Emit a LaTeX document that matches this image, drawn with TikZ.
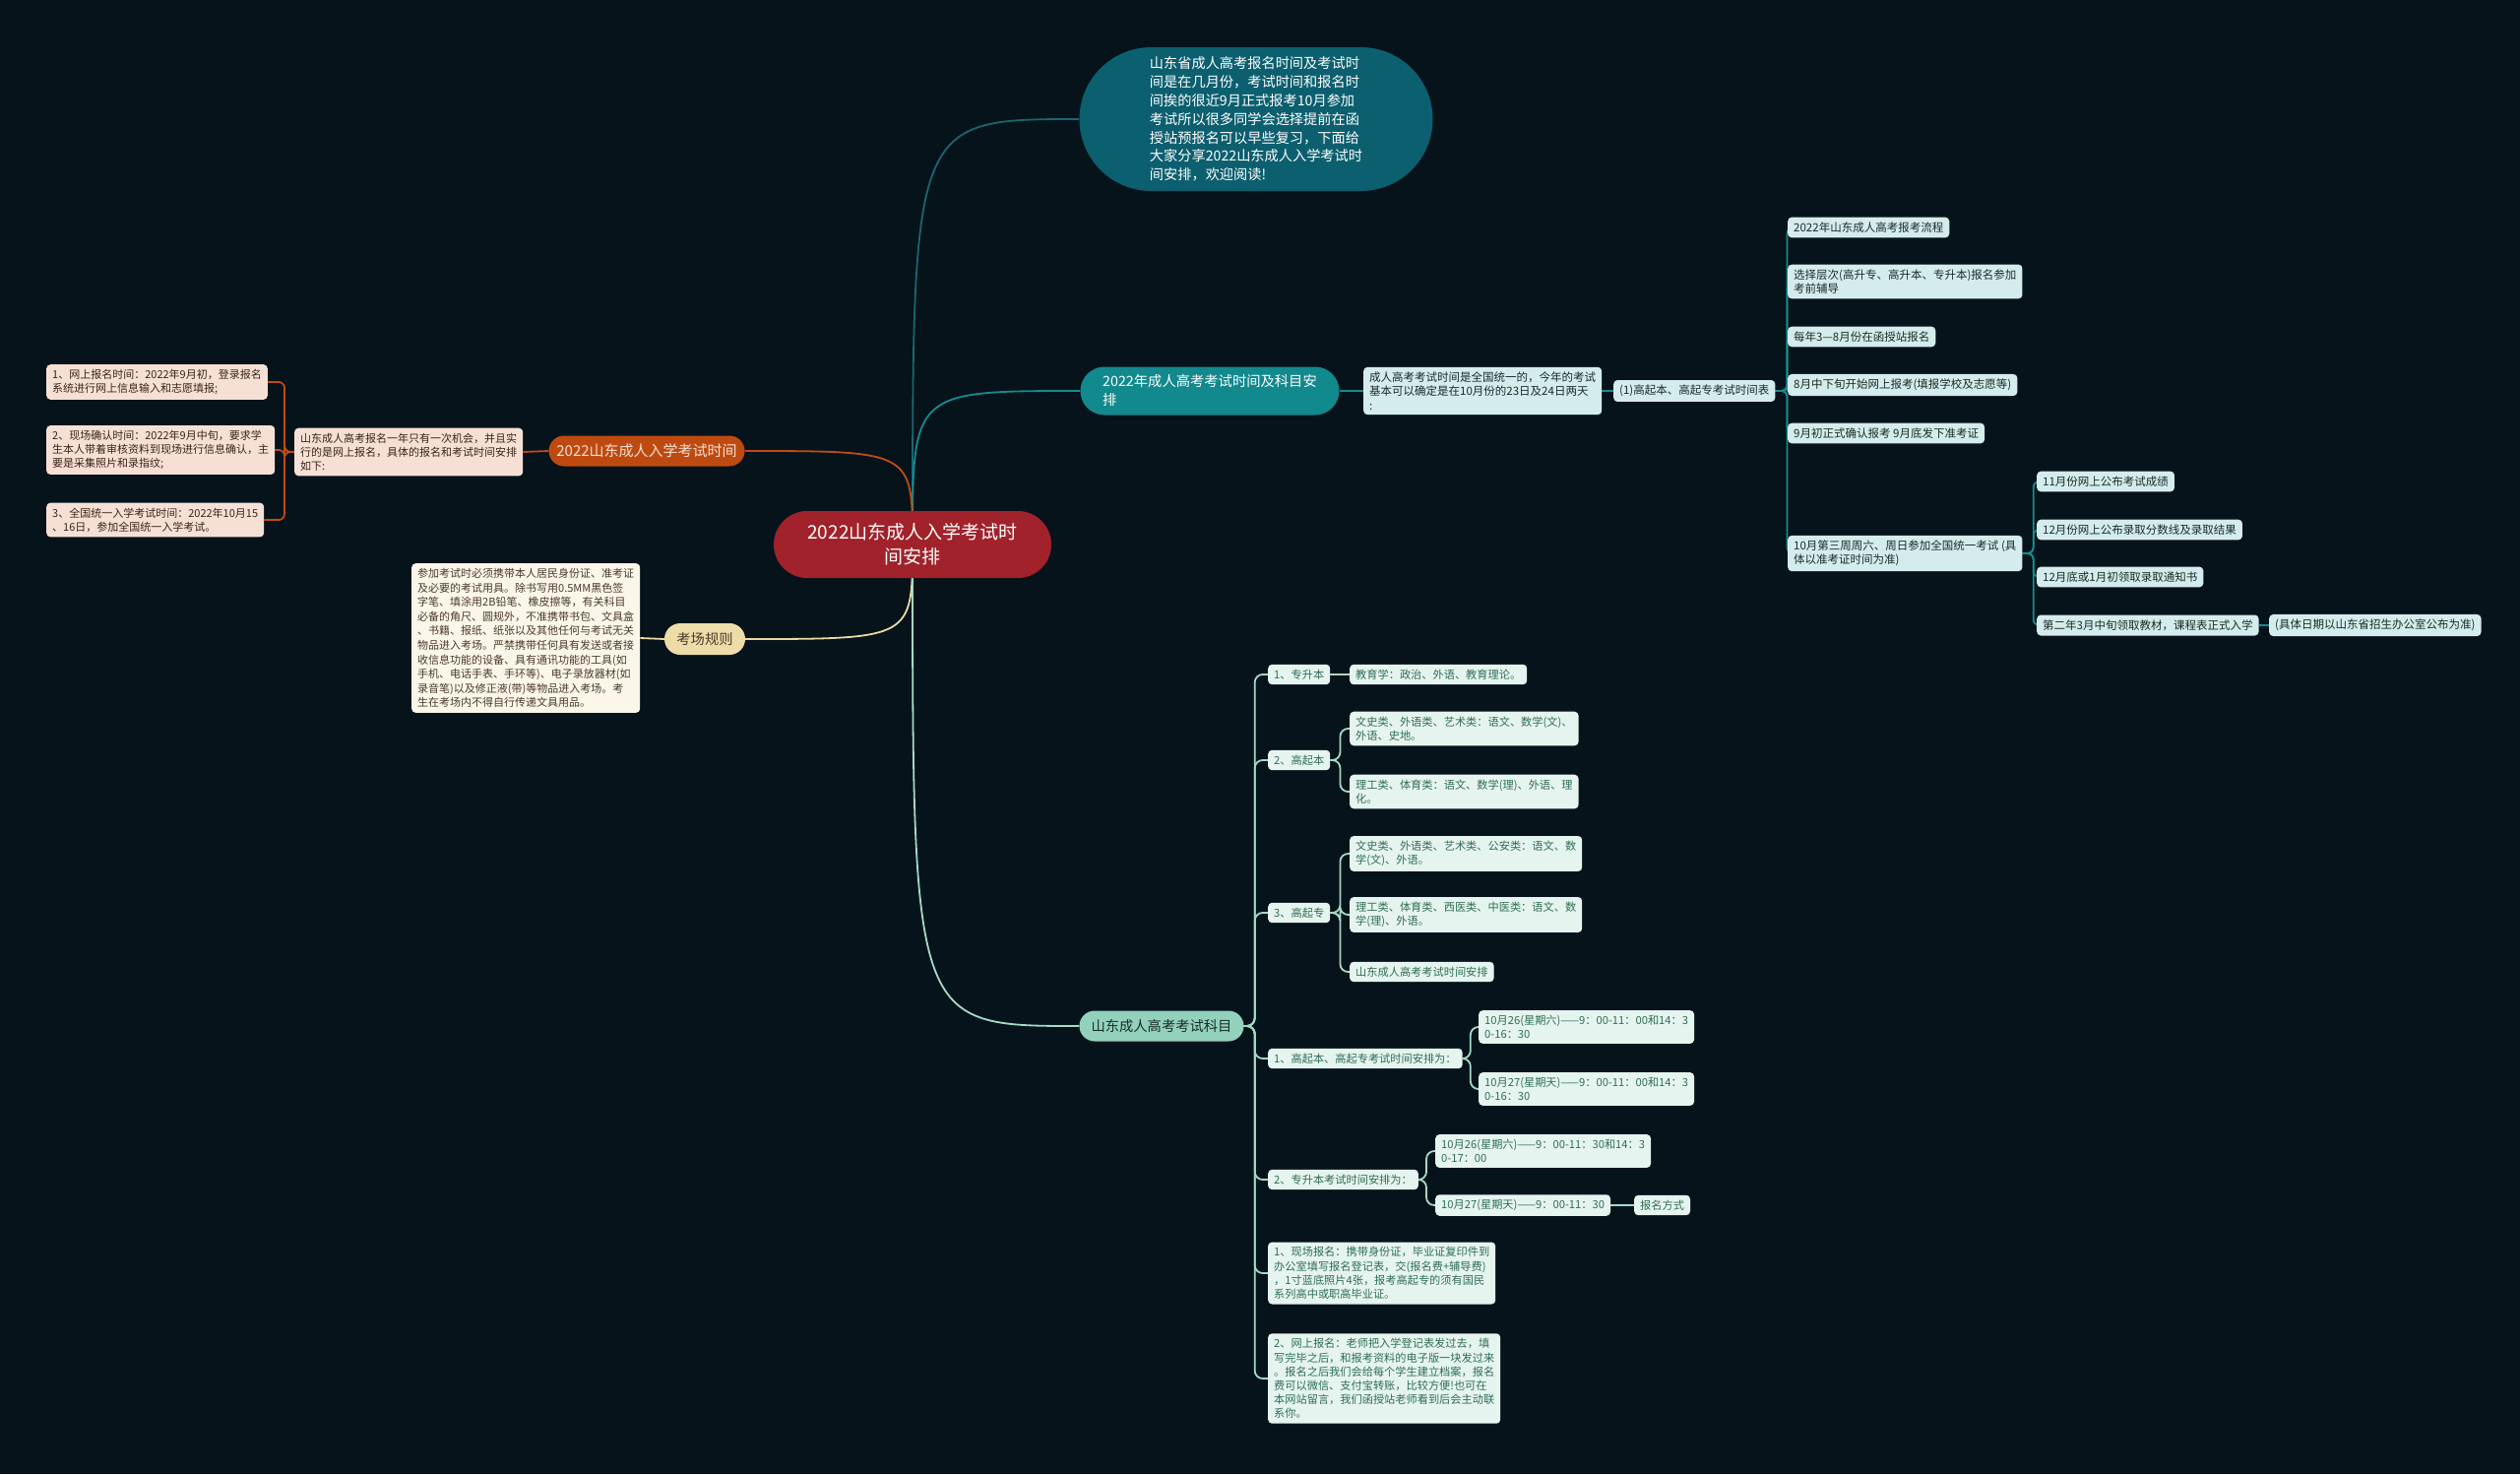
\documentclass[tikz,border=0pt]{standalone}
\usepackage{fontspec}
\setmainfont{Noto Sans CJK SC}
\usetikzlibrary{shapes.misc}
\definecolor{bgc}{HTML}{07131A}
\definecolor{ctrc}{HTML}{A1222B}
\definecolor{topc}{HTML}{0C5F6F}
\definecolor{topl}{HTML}{1B6573}
\definecolor{tealc}{HTML}{11898D}
\definecolor{teall}{HTML}{168C8F}
\definecolor{tleaf}{HTML}{D4ECEC}
\definecolor{ttext}{HTML}{1C2B2B}
\definecolor{orgc}{HTML}{BF4A10}
\definecolor{orgl}{HTML}{C14B16}
\definecolor{oleaf}{HTML}{F6E0D6}
\definecolor{otext}{HTML}{3B2418}
\definecolor{rulc}{HTML}{EEDCA8}
\definecolor{rull}{HTML}{EBD8A6}
\definecolor{rleaf}{HTML}{FBF6EA}
\definecolor{rtext}{HTML}{4B3A28}
\definecolor{subc}{HTML}{92D2BC}
\definecolor{subl}{HTML}{A4DAC6}
\definecolor{sleaf}{HTML}{E6F4EF}
\definecolor{stext}{HTML}{2E6E55}
\pgfdeclarelayer{bglayer}
\pgfdeclarelayer{edges}
\pgfsetlayers{bglayer,edges,main}
\begin{document}
\begin{tikzpicture}[x=1pt,y=-1pt,
  mainnode/.style={rounded rectangle, inner xsep=4pt, inner ysep=3pt},
  leaf/.style={rectangle, rounded corners=4pt, inner xsep=6pt, inner ysep=5pt, align=left, anchor=west},
  tleafn/.style={leaf, fill=tleaf, text=ttext, font=\fontsize{11.5}{14.2}\selectfont},
  oleafn/.style={leaf, fill=oleaf, text=otext, font=\fontsize{11}{14.2}\selectfont},
  rleafn/.style={leaf, fill=rleaf, text=rtext, font=\fontsize{11}{14.6}\selectfont},
  sleafn/.style={leaf, fill=sleaf, text=stext, font=\fontsize{11.2}{14.2}\selectfont},
  lt/.style={draw=teall, line width=1.8pt, rounded corners=6pt},
  lo/.style={draw=orgl, line width=1.8pt, rounded corners=6pt},
  lr/.style={draw=rull, line width=1.8pt},
  ls/.style={draw=subl, line width=1.8pt, rounded corners=8pt},
  ltop/.style={draw=topl, line width=1.8pt}]
\useasboundingbox (0,0) rectangle (2560,1497);
\begin{pgfonlayer}{bglayer}
\fill[bgc] (0,0) rectangle (2560,1497);
\end{pgfonlayer}

% main nodes
\node[mainnode, fill=ctrc, text=white, minimum width=290pt, minimum height=68pt, align=center,
  font=\fontsize{19}{25}\selectfont] (ctr) at (927,553) {2022山东成人入学考试时\\间安排};
\node[mainnode, fill=topc, text=white, minimum width=367pt, minimum height=146pt, align=left,
  font=\fontsize{14.2}{18.8}\selectfont] (top) at (1276,121) {山东省成人高考报名时间及考试时\\间是在几月份，考试时间和报名时\\间挨的很近9月正式报考10月参加\\考试所以很多同学会选择提前在函\\授站预报名可以早些复习，下面给\\大家分享2022山东成人入学考试时\\间安排，欢迎阅读!};
\node[mainnode, fill=tealc, text=white, minimum width=271pt, minimum height=49pt, align=left,
  font=\fontsize{14.3}{19}\selectfont] (tMain) at (1229,397) {2022年成人高考考试时间及科目安\\排};
\node[mainnode, fill=orgc, text=oleaf, minimum width=207pt, minimum height=31pt,
  font=\fontsize{15}{18}\selectfont] (oMain) at (657,458) {2022山东成人入学考试时间};
\node[mainnode, fill=rulc, text=rtext, minimum width=90pt, minimum height=32pt,
  font=\fontsize{14.3}{18}\selectfont] (rMain) at (716,649) {考场规则};
\node[mainnode, fill=subc, text=ttext, minimum width=175pt, minimum height=31pt,
  font=\fontsize{14.3}{18}\selectfont] (sMain) at (1180,1042) {山东成人高考考试科目};

% teal branch
\node[tleafn] (tBox) at (1385,397) {成人高考考试时间是全国统一的，今年的考试\\基本可以确定是在10月份的23日及24日两天\\:};
\node[tleafn] (tTbl) at (1639,397) {(1)高起本、高起专考试时间表};
\node[tleafn] (tA) at (1816,231) {2022年山东成人高考报考流程};
\node[tleafn] (tB) at (1816,286) {选择层次(高升专、高升本、专升本)报名参加\\考前辅导};
\node[tleafn] (tC) at (1816,342) {每年3—8月份在函授站报名};
\node[tleafn] (tD) at (1816,391) {8月中下旬开始网上报考(填报学校及志愿等)};
\node[tleafn] (tE) at (1816,440) {9月初正式确认报考 9月底发下准考证};
\node[tleafn] (tF) at (1816,562) {10月第三周周六、周日参加全国统一考试 (具\\体以准考证时间为准)};
\node[tleafn] (tG1) at (2069,489) {11月份网上公布考试成绩};
\node[tleafn] (tG2) at (2069,538) {12月份网上公布录取分数线及录取结果};
\node[tleafn] (tG3) at (2069,586) {12月底或1月初领取录取通知书};
\node[tleafn] (tG4) at (2069,635) {第二年3月中旬领取教材，课程表正式入学};
\node[tleafn] (tH) at (2305,635) {(具体日期以山东省招生办公室公布为准)};

% orange branch
\node[oleafn] (oMid) at (299,459) {山东成人高考报名一年只有一次机会，并且实\\行的是网上报名，具体的报名和考试时间安排\\如下:};
\node[oleafn] (o1) at (47,388) {1、网上报名时间：2022年9月初，登录报名\\系统进行网上信息输入和志愿填报;};
\node[oleafn] (o2) at (47,457) {2、现场确认时间：2022年9月中旬，要求学\\生本人带着审核资料到现场进行信息确认，主\\要是采集照片和录指纹;};
\node[oleafn] (o3) at (47,528) {3、全国统一入学考试时间：2022年10月15\\、16日，参加全国统一入学考试。};

% rules branch
\node[rleafn] (rBox) at (418,648) {参加考试时必须携带本人居民身份证、准考证\\及必要的考试用具。除书写用0.5MM黑色签\\字笔、填涂用2B铅笔、橡皮擦等，有关科目\\必备的角尺、圆规外，不准携带书包、文具盒\\、书籍、报纸、纸张以及其他任何与考试无关\\物品进入考场。严禁携带任何具有发送或者接\\收信息功能的设备、具有通讯功能的工具(如\\手机、电话手表、手环等)、电子录放器材(如\\录音笔)以及修正液(带)等物品进入考场。考\\生在考场内不得自行传递文具用品。};

% subject branch
\node[sleafn] (s1) at (1288,685) {1、专升本};
\node[sleafn] (s1a) at (1371,685) {教育学：政治、外语、教育理论。};
\node[sleafn] (s2) at (1288,772) {2、高起本};
\node[sleafn] (s2a) at (1371,740) {文史类、外语类、艺术类：语文、数学(文)、\\外语、史地。};
\node[sleafn] (s2b) at (1371,804) {理工类、体育类：语文、数学(理)、外语、理\\化。};
\node[sleafn] (s3) at (1288,927) {3、高起专};
\node[sleafn] (s3a) at (1371,867) {文史类、外语类、艺术类、公安类：语文、数\\学(文)、外语。};
\node[sleafn] (s3b) at (1371,929) {理工类、体育类、西医类、中医类：语文、数\\学(理)、外语。};
\node[sleafn] (s3c) at (1371,987) {山东成人高考考试时间安排};
\node[sleafn] (s4) at (1288,1075) {1、高起本、高起专考试时间安排为：};
\node[sleafn] (s4a) at (1502,1043) {10月26(星期六)——9：00-11：00和14：3\\0-16：30};
\node[sleafn] (s4b) at (1502,1106) {10月27(星期天)——9：00-11：00和14：3\\0-16：30};
\node[sleafn] (s5) at (1288,1198) {2、专升本考试时间安排为：};
\node[sleafn] (s5a) at (1458,1169) {10月26(星期六)——9：00-11：30和14：3\\0-17：00};
\node[sleafn] (s5b) at (1458,1224) {10月27(星期天)——9：00-11：30};
\node[sleafn] (s5c) at (1660,1224) {报名方式};
\node[sleafn] (s6) at (1288,1293) {1、现场报名：携带身份证，毕业证复印件到\\办公室填写报名登记表，交(报名费+辅导费)\\，1寸蓝底照片4张，报考高起专的须有国民\\系列高中或职高毕业证。};
\node[sleafn] (s7) at (1288,1400) {2、网上报名：老师把入学登记表发过去，填\\写完毕之后，和报考资料的电子版一块发过来\\。报名之后我们会给每个学生建立档案，报名\\费可以微信、支付宝转账，比较方便!也可在\\本网站留言，我们函授站老师看到后会主动联\\系你。};

\begin{pgfonlayer}{edges}
% main curves
\draw[ltop] (ctr.center) .. controls (ctr.center |- top.west) .. (top.west);
\draw[lt] (ctr.center) .. controls (ctr.center |- tMain.west) .. (tMain.west);
\draw[lo] (ctr.center) .. controls (ctr.center |- oMain.east) .. (oMain.east);
\draw[lr] (ctr.center) .. controls (ctr.center |- rMain.east) .. (rMain.east);
\draw[ls] (ctr.center) .. controls (ctr.center |- sMain.west) .. (sMain.west);
% teal
\draw[lt] (tMain.east) -- (tBox.west);
\draw[lt] (tBox.east) -- (tTbl.west);
\foreach \n in {tA,tB,tC,tD,tE,tF} \draw[lt] (tTbl.east) -- ++(12,0) |- (\n.west);
\foreach \n in {tG1,tG2,tG3,tG4} \draw[lt] (tF.east) -- ++(11,0) |- (\n.west);
\draw[lt] (tG4.east) -- (tH.west);
% orange
\draw[lo] (oMain.west) -- (oMid.east);
\foreach \n in {o1,o2,o3} \draw[lo] (oMid.west) -- ++(-10,0) |- (\n.east);
% rules
\draw[lr] (rMain.west) -- (rBox.east);
% subject
\foreach \n in {s1,s2,s3,s4,s5,s6,s7} \draw[ls] (sMain.east) -- ++(11,0) |- (\n.west);
\draw[ls] (s1.east) -- (s1a.west);
\foreach \n in {s2a,s2b} \draw[ls] (s2.east) -- ++(10,0) |- (\n.west);
\foreach \n in {s3a,s3b,s3c} \draw[ls] (s3.east) -- ++(10,0) |- (\n.west);
\foreach \n in {s4a,s4b} \draw[ls] (s4.east) -- ++(8,0) |- (\n.west);
\foreach \n in {s5a,s5b} \draw[ls] (s5.east) -- ++(8,0) |- (\n.west);
\draw[ls] (s5b.east) -- (s5c.west);
\end{pgfonlayer}
\end{tikzpicture}
\end{document}
